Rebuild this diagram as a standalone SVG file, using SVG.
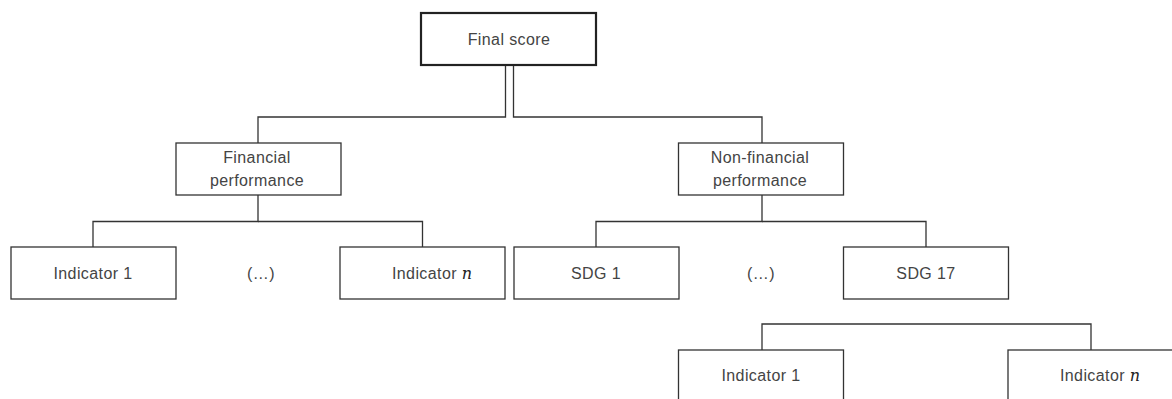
<svg xmlns="http://www.w3.org/2000/svg" width="1172" height="399" viewBox="0 0 1172 399">
<style>
.box{fill:#fff;stroke:#333;stroke-width:1.3}
.main{fill:#fff;stroke:#222;stroke-width:2.2}
.con{fill:none;stroke:#333;stroke-width:1.3}
text{font-family:"Liberation Sans",Arial,sans-serif;font-size:16px;fill:#444;text-anchor:middle;letter-spacing:0.4px}
.m{font-family:"DejaVu Serif","Liberation Serif",serif;font-style:italic;font-size:16px;fill:#222;letter-spacing:0}
</style>
<rect width="1172" height="399" fill="#fff"/>
<g id="connectors">
<path class="con" d="M505.5 65 V117 H258 V143"/>
<path class="con" d="M513.5 65 V117 H762 V143"/>
<path class="con" d="M258 195 V221.5 H93 V247"/>
<path class="con" d="M258 221.5 H422.5 V247"/>
<path class="con" d="M762 195 V221.5 H596 V247"/>
<path class="con" d="M762 221.5 H926 V247"/>
<path class="con" d="M762 350 V324 H1091 V350"/>
</g>
<g id="final-score">
<rect class="main" x="421" y="13" width="175" height="52"/>
<text x="509" y="45">Final score</text>
</g>
<g id="financial">
<rect class="box" x="176" y="143" width="165" height="52"/>
<text x="257" y="163">Financial</text>
<text x="257" y="186">performance</text>
</g>
<g id="non-financial">
<rect class="box" x="678.5" y="143" width="165" height="52"/>
<text x="760" y="163">Non-financial</text>
<text x="760" y="186">performance</text>
</g>
<g id="fin-indicator-1">
<rect class="box" x="11" y="247" width="165" height="52"/>
<text x="93" y="279">Indicator 1</text>
</g>
<g id="fin-ellipsis">
<text x="261" y="279">(…)</text>
</g>
<g id="fin-indicator-n">
<rect class="box" x="340" y="247" width="165" height="52"/>
<text x="432" y="279">Indicator <tspan class="m">n</tspan></text>
</g>
<g id="sdg-1">
<rect class="box" x="514" y="247" width="165" height="52"/>
<text x="596" y="279">SDG 1</text>
</g>
<g id="sdg-ellipsis">
<text x="761" y="279">(…)</text>
</g>
<g id="sdg-17">
<rect class="box" x="843.5" y="247" width="165" height="52"/>
<text x="926" y="279">SDG 17</text>
</g>
<g id="sdg-indicator-1">
<rect class="box" x="678.5" y="350" width="165" height="60"/>
<text x="761" y="381">Indicator 1</text>
</g>
<g id="sdg-indicator-n">
<rect class="box" x="1008" y="350" width="170" height="60"/>
<text x="1100" y="381">Indicator <tspan class="m">n</tspan></text>
</g>
</svg>
